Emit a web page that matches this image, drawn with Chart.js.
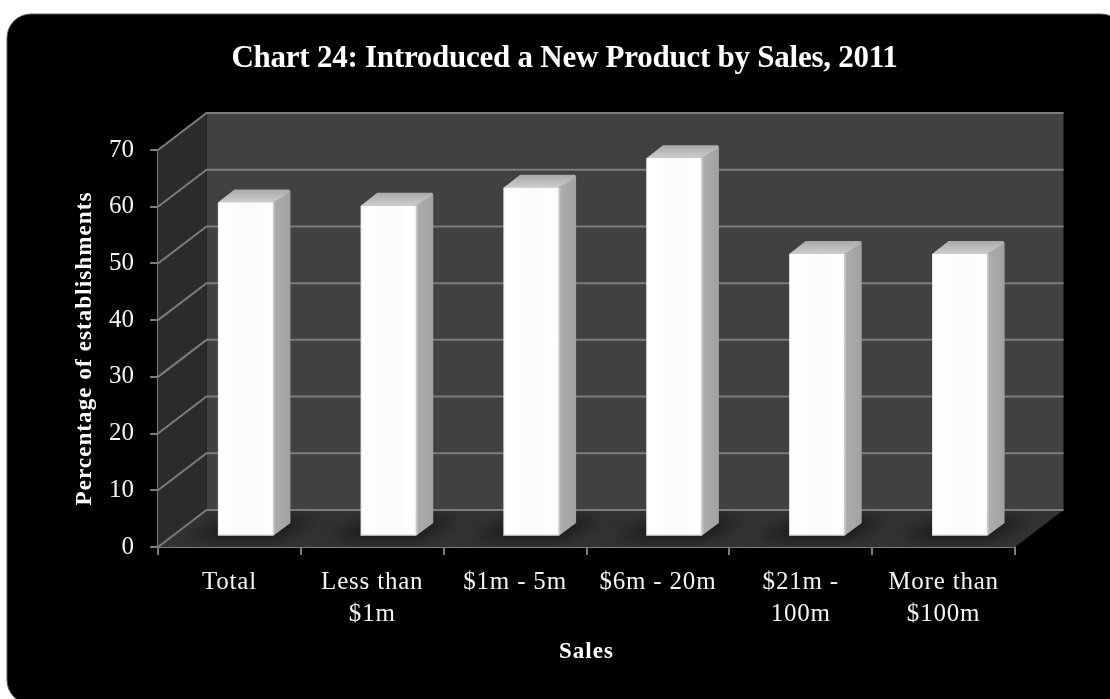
<!DOCTYPE html>
<html>
<head>
<meta charset="utf-8">
<style>html,body{margin:0;padding:0;background:#fff}canvas{display:block}</style>
<script src="https://cdn.jsdelivr.net/npm/chart.js@4"></script>
</head>
<body>
<div style="width:1110px;height:699px"><canvas id="c" width="1110" height="699"></canvas></div>
<script>
const categories = ['Total', ['Less than', '$1m'], '$1m - 5m', '$6m - 20m', ['$21m -', '100m'], ['More than', '$100m']];
const shares = [59, 58.4, 61.6, 66.8, 49.9, 49.9];
const yTicks = [0, 10, 20, 30, 40, 50, 60, 70];
const chartTitle = 'Chart 24: Introduced a New Product by Sales, 2011';
const xTitle = 'Sales';
const yTitle = 'Percentage of establishments';

const SERIF = '"Liberation Serif", serif';
const WALL_DX = 48.5, WALL_DY = -37;   // depth vector of the box
const BAR_DX = 16, BAR_DY = -10;       // bars stand inside the box
const BAR_DEPTH_X = 17.5, BAR_DEPTH_Y = -13;
const GRID = '#7c7c7c';

function poly(ctx, pts, fill) {
  ctx.beginPath();
  pts.forEach((p, i) => i ? ctx.lineTo(p[0], p[1]) : ctx.moveTo(p[0], p[1]));
  ctx.closePath();
  ctx.fillStyle = fill;
  ctx.fill();
}

// Runs a drawing method with its own letter spacing
function spaced(chart, owner, method, spacing) {
  const original = owner[method];
  owner[method] = function (...args) {
    chart.ctx.letterSpacing = spacing;
    original.apply(this, args);
    chart.ctx.letterSpacing = '0px';
  };
}

const panel = {
  id: 'panel',
  afterLayout(chart) {
    if (chart.$spaced) return;
    chart.$spaced = true;
    spaced(chart, chart.titleBlock, 'draw', '-0.25px');
    spaced(chart, chart.scales.x, 'drawLabels', '0.8px');
    spaced(chart, chart.scales.x, 'drawTitle', '1px');
    spaced(chart, chart.scales.y, 'drawTitle', '1.1px');
  },
  beforeDraw(chart) {
    const ctx = chart.ctx;
    ctx.save();
    ctx.fillStyle = '#fff';
    ctx.fillRect(0, 0, chart.width, chart.height);
    ctx.beginPath();
    ctx.roundRect(7, 14, 1118, 690, 24);
    ctx.fillStyle = '#000';
    ctx.fill();
    ctx.strokeStyle = '#5a5a5a';
    ctx.lineWidth = 1;
    ctx.stroke();
    ctx.restore();
  }
};

// Walls, floor, gridlines and the receding faces of each bar
const box3d = {
  id: 'box3d',
  beforeDatasetsDraw(chart) {
    const ctx = chart.ctx, { left, right, top, bottom } = chart.chartArea;
    const y = chart.scales.y;
    const dx = WALL_DX, dy = WALL_DY;
    ctx.save();
    poly(ctx, [[left + dx, top + dy], [right + dx, top + dy], [right + dx, bottom + dy], [left + dx, bottom + dy]], '#414141');
    poly(ctx, [[left, top], [left + dx, top + dy], [left + dx, bottom + dy], [left, bottom]], '#2b2b2b');
    poly(ctx, [[left, bottom], [left + dx, bottom + dy], [right + dx, bottom + dy], [right, bottom]], '#333333');
    ctx.strokeStyle = GRID;
    ctx.lineWidth = 2;
    yTicks.forEach(v => {
      const py = y.getPixelForValue(v);
      ctx.beginPath();
      ctx.moveTo(left, py);
      ctx.lineTo(left + dx, py + dy);
      ctx.lineTo(right + dx, py + dy);
      ctx.stroke();
    });
    chart.getDatasetMeta(0).data.forEach(bar => {
      const x0 = bar.x - bar.width / 2 + BAR_DX, x1 = bar.x + bar.width / 2 + BAR_DX;
      const yt = bar.y + BAR_DY, yb = bar.base + BAR_DY;
      const ox = BAR_DEPTH_X, oy = BAR_DEPTH_Y;
      // soft shadow cast on the floor
      ctx.save();
      ctx.beginPath();
      ctx.rect(left, bottom + dy + 1, right + dx - left, -dy - 2);
      ctx.clip();
      ctx.filter = 'blur(8px)';
      poly(ctx, [[x0 - 34, yb + 2], [x1, yb + 2], [x1 + ox + 26, yb + oy - 4], [x0 + ox, yb + oy - 4]], 'rgba(16,16,16,0.95)');
      ctx.restore();
      const side = ctx.createLinearGradient(x1, 0, x1 + ox, 0);
      side.addColorStop(0, '#d6d6d6');
      side.addColorStop(0.14, '#ababab');
      side.addColorStop(1, '#a2a2a2');
      poly(ctx, [[x1, yt], [x1 + ox - 1, yt + oy + 1], [x1 + ox, yt + oy + 3], [x1 + ox, yb + oy], [x1, yb]], side);
      const topFace = ctx.createLinearGradient(0, yt + oy, 0, yt);
      topFace.addColorStop(0, '#a9a9a9');
      topFace.addColorStop(1, '#cdcdcd');
      poly(ctx, [[x0, yt], [x0 + ox - 1, yt + oy], [x1 + ox - 1, yt + oy], [x1 + ox, yt + oy + 2], [x1, yt]], topFace);
    });
    ctx.restore();
  },
  beforeDatasetDraw(chart) {
    chart.ctx.save();
    chart.ctx.translate(BAR_DX, BAR_DY);
  },
  afterDatasetDraw(chart) {
    // bevelled rim on each front face, still in the bars' shifted frame
    const ctx = chart.ctx;
    chart.getDatasetMeta(0).data.forEach(bar => {
      const x0 = bar.x - bar.width / 2, w = bar.width, h = bar.base - bar.y;
      const g = ctx.createLinearGradient(x0, 0, x0 + w, 0);
      g.addColorStop(0, '#d8d8d8');
      g.addColorStop(0.025, '#ffffff');
      g.addColorStop(0.2, '#fefefe');
      g.addColorStop(0.55, '#fafafa');
      g.addColorStop(0.95, '#ffffff');
      g.addColorStop(1, '#f6f6f6');
      ctx.fillStyle = g;
      ctx.fillRect(x0, bar.y, w, h);
      const b = ctx.createLinearGradient(0, bar.base - 2, 0, bar.base);
      b.addColorStop(0, 'rgba(170,170,170,0)');
      b.addColorStop(1, 'rgba(130,130,130,0.9)');
      ctx.fillStyle = b;
      ctx.fillRect(x0, bar.base - 2, w, 2);
    });
    ctx.restore();
  }
};

new Chart(document.getElementById('c'), {
  type: 'bar',
  data: {
    labels: categories,
    datasets: [{
      data: shares,
      backgroundColor: '#fcfcfc',
      barPercentage: 0.385,
      categoryPercentage: 1
    }]
  },
  plugins: [panel, box3d],
  options: {
    responsive: false,
    animation: false,
    layout: { padding: { left: 19, right: 0, top: 0, bottom: 0 } },
    plugins: {
      legend: { display: false },
      tooltip: { enabled: false },
      title: {
        display: true,
        text: chartTitle,
        color: '#fff',
        font: { family: SERIF, size: 31, weight: 'bold', lineHeight: 1.2 },
        padding: { top: 40, bottom: 72.8 }
      }
    },
    scales: {
      x: {
        offset: true,
        border: { color: GRID, width: 2 },
        grid: { display: true, drawOnChartArea: false, drawTicks: true, tickLength: 8, color: GRID, lineWidth: 2 },
        ticks: { color: '#f4f4f4', font: { family: SERIF, size: 25, lineHeight: 1.27 }, padding: 12, maxRotation: 0, autoSkip: false },
        title: { display: true, text: xTitle, color: '#fff', font: { family: SERIF, size: 23, weight: 'bold', lineHeight: 1.2 }, padding: 33 },
        afterFit(s) { s.height = 152; }
      },
      y: {
        min: 0, max: 70,
        border: { color: GRID, width: 2 },
        grid: { display: true, drawOnChartArea: false, drawTicks: true, tickLength: 8, color: GRID, lineWidth: 2 },
        ticks: { stepSize: 10, color: '#f4f4f4', font: { family: SERIF, size: 25 }, padding: 16 },
        title: { display: true, text: yTitle, color: '#fff', font: { family: SERIF, size: 23, weight: 'bold', lineHeight: 1.2 }, padding: 52 },
        afterFit(s) { s.width = 139; }
      },
      gutter: {
        position: 'right',
        display: true,
        border: { display: false },
        grid: { display: false },
        ticks: { display: false },
        afterFit(s) { s.width = 95; }
      }
    }
  }
});
</script>
</body>
</html>
